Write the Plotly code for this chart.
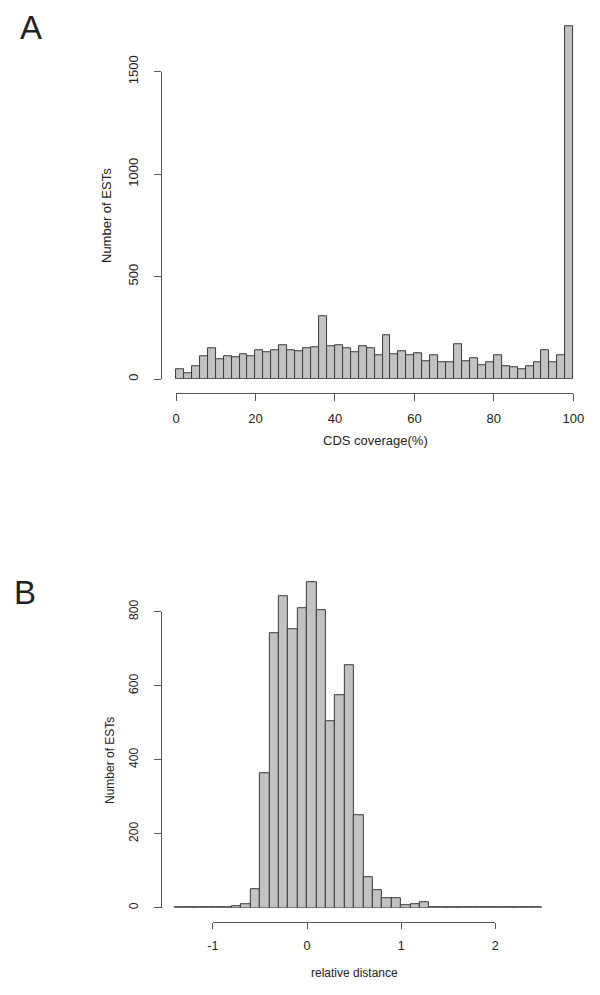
import numpy as np
import plotly.graph_objects as go

# ---------------- data ----------------
# Panel A: CDS coverage histogram, bins of width 2 from 0 to 100
a_bin_start = 0
a_bin_width = 2
a_counts = [49, 29, 62, 112, 149, 96, 109, 105, 123, 111,
            141, 132, 138, 166, 141, 135, 148, 154, 304, 161,
            167, 151, 132, 159, 148, 117, 216, 123, 137, 114,
            128, 86, 114, 83, 81, 169, 86, 102, 65, 84,
            114, 61, 59, 49, 63, 81, 138, 84, 117, 1720]
a_xticks = [0, 20, 40, 60, 80, 100]
a_yticks = [0, 500, 1000, 1500]

# Panel B: relative distance histogram, bins of width 0.1 from -1.4 to 2.5
b_bin_start = -1.4
b_bin_width = 0.1
b_counts = [1, 1, 1, 1, 1, 2, 4, 9, 50, 363,
            742, 843, 753, 810, 880, 805, 504, 575, 656, 250,
            82, 47, 27, 27, 7, 9, 14, 1, 1, 1,
            1, 1, 1, 1, 1, 1, 1, 1, 1]
b_xticks = [-1, 0, 1, 2]
b_yticks = [0, 200, 400, 600, 800]

# ---------------- layout helpers ----------------
W, H = 600, 995
def px_x(p):
    return p / W
def px_y(p):
    return 1 - p / H

FONT = "Liberation Sans, Arial, sans-serif"
TXT = "#222222"
AXC = "#555555"
BAR_FILL = "#c2c2c2"
BAR_LINE = "#3a3a3a"

fig = go.Figure()

a_centers = [a_bin_start + a_bin_width * (i + 0.5) for i in range(len(a_counts))]
fig.add_trace(go.Bar(x=a_centers, y=a_counts, width=a_bin_width,
                     marker=dict(color=BAR_FILL, line=dict(color=BAR_LINE, width=1)),
                     xaxis="x", yaxis="y", hoverinfo="x+y", showlegend=False))
fig.add_trace(go.Scatter(x=[a_xticks[0]], y=[a_yticks[0]], mode="markers",
                         marker=dict(opacity=0), xaxis="x2", yaxis="y2",
                         hoverinfo="skip", showlegend=False))

b_centers = [b_bin_start + b_bin_width * (i + 0.5) for i in range(len(b_counts))]
fig.add_trace(go.Bar(x=b_centers, y=b_counts, width=b_bin_width,
                     marker=dict(color=BAR_FILL, line=dict(color=BAR_LINE, width=1)),
                     xaxis="x3", yaxis="y3", hoverinfo="x+y", showlegend=False))
fig.add_trace(go.Scatter(x=[b_xticks[0]], y=[b_yticks[0]], mode="markers",
                         marker=dict(opacity=0), xaxis="x4", yaxis="y4",
                         hoverinfo="skip", showlegend=False))

# pixel geometry (from the reference)
ax0, ax100 = 176.0, 573.3
asx = (ax100 - ax0) / 100.0
ay0, ay1500 = 379.0, 71.7
asy = (ay0 - ay1500) / 1500.0
a_xr = [-2, 102]
a_yr = [0, 1800]
bxm1, bx2 = 212.9, 495.2
bsx = (bx2 - bxm1) / 3.0
by0, by800 = 907.7, 611.7
bsy = (by0 - by800) / 800.0
b_xr = [-1.5, 2.6]
b_yr = [0, 950]

def frame_x(rng, dom_px, pos_px, ticks, fs, ticklen):
    return dict(range=rng, domain=[px_x(dom_px[0]), px_x(dom_px[1])],
                anchor="free", position=px_y(pos_px),
                showline=True, linecolor=AXC, linewidth=1,
                ticks="outside", ticklen=ticklen, tickcolor=AXC, tickwidth=1,
                tickvals=ticks, ticktext=[str(t) for t in ticks],
                tickfont=dict(family=FONT, size=fs, color=TXT),
                showgrid=False, zeroline=False,
                ticklabelstandoff=6, fixedrange=True, automargin=False)

def frame_y(rng, dom_px, pos_px, ticks, fs):
    return dict(range=rng, domain=[px_y(dom_px[0]), px_y(dom_px[1])],
                anchor="free", position=px_x(pos_px),
                showline=True, linecolor=AXC, linewidth=1,
                ticks="outside", ticklen=7, tickcolor=AXC, tickwidth=1,
                tickvals=ticks, ticktext=[str(t) for t in ticks],
                tickfont=dict(family=FONT, size=fs, color=TXT),
                tickangle=-90, showgrid=False, zeroline=False,
                ticklabelstandoff=11, fixedrange=True, automargin=False)

hidden = dict(visible=False, showgrid=False, zeroline=False, fixedrange=True, automargin=False)

fig.update_layout(
    width=W, height=H,
    margin=dict(l=0, r=0, t=0, b=0, pad=0, autoexpand=False),
    paper_bgcolor="white", plot_bgcolor="rgba(0,0,0,0)",
    bargap=0,
    font=dict(family=FONT, color=TXT),
    xaxis=dict(hidden, range=a_xr, anchor="y",
               domain=[px_x(ax0 + a_xr[0] * asx), px_x(ax0 + a_xr[1] * asx)]),
    yaxis=dict(hidden, range=a_yr, anchor="x",
               domain=[px_y(ay0), px_y(ay0 - a_yr[1] * asy)]),
    xaxis2=frame_x([a_xticks[0], a_xticks[-1]], [ax0, ax100], 393.3, a_xticks, 13, 7),
    yaxis2=frame_y([a_yticks[0], a_yticks[-1]], [ay0, ay1500], 160.7, a_yticks, 13),
    xaxis3=dict(hidden, range=b_xr, anchor="y3",
                domain=[px_x(bxm1 + (b_xr[0] + 1) * bsx), px_x(bxm1 + (b_xr[1] + 1) * bsx)]),
    yaxis3=dict(hidden, range=b_yr, anchor="x3",
                domain=[px_y(by0), px_y(by0 - b_yr[1] * bsy)]),
    xaxis4=frame_x([b_xticks[0], b_xticks[-1]], [bxm1, bx2], 921.7, b_xticks, 12.5, 6),
    yaxis4=frame_y([b_yticks[0], b_yticks[-1]], [by0, by800], 161.0, b_yticks, 12),
)

def ann(text, x, y, size=12, angle=0):
    fig.add_annotation(text=text, x=px_x(x), y=px_y(y), xref="paper", yref="paper",
                       showarrow=False, textangle=angle, xanchor="center", yanchor="middle",
                       font=dict(family=FONT, size=size, color=TXT))

ann("CDS coverage(%)", 375.5, 441, size=13)
ann("Number of ESTs", 107, 216, size=13, angle=-90)
ann("relative distance", 354, 972.5, size=12)
ann("Number of ESTs", 110, 760, size=12, angle=-90)
ann("A", 31, 27, size=33)
ann("B", 25, 592, size=33)

fig.write_html("out.html", config={"displayModeBar": False},
               post_script="document.body.style.margin='0';document.body.style.overflow='hidden';")
